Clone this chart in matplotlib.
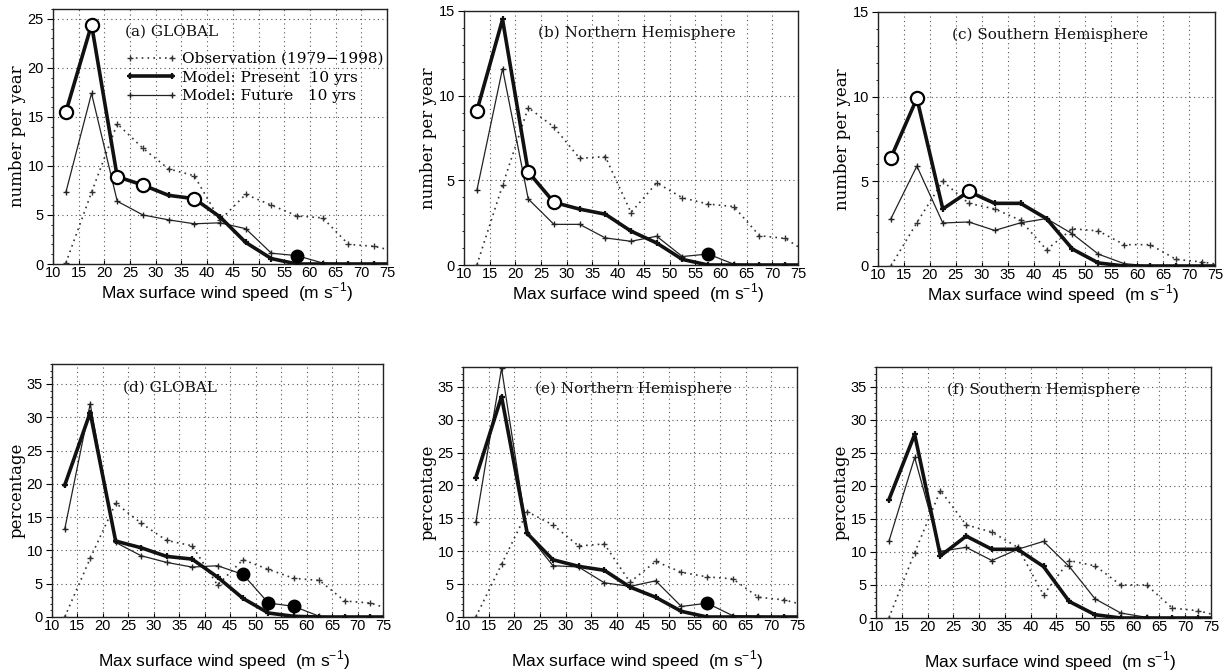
import matplotlib
matplotlib.use("Agg")
import matplotlib.pyplot as plt
from matplotlib.ticker import MultipleLocator
from matplotlib.lines import Line2D

# ---------------- data ----------------
wind = [12.5, 17.5, 22.5, 27.5, 32.5, 37.5, 42.5, 47.5, 52.5, 57.5, 62.5, 67.5, 72.5, 77.5]

# (a) GLOBAL, number per year
a_obs     = [0.1, 7.3, 14.3, 11.8, 9.7, 9.0, 4.45, 7.1, 6.0, 4.9, 4.7, 2.0, 1.8, 1.2]
a_present = [15.5, 24.4, 8.9, 8.05, 7.0, 6.66, 4.8, 2.2, 0.55, 0.0, 0.0, 0.0, 0.0, 0.0]
a_future  = [7.3, 17.4, 6.4, 5.0, 4.5, 4.1, 4.2, 3.6, 1.1, 0.85, 0.1, 0.0, 0.0, 0.0]
a_present_open = [12.5, 17.5, 22.5, 27.5, 37.5]
a_future_filled = [57.5]

# (b) Northern Hemisphere, number per year
b_obs     = [0.0, 4.7, 9.3, 8.15, 6.3, 6.4, 3.1, 4.85, 3.97, 3.6, 3.45, 1.73, 1.57, 0.6]
b_present = [9.1, 14.5, 5.5, 3.7, 3.3, 3.0, 2.0, 1.3, 0.33, 0.0, 0.0, 0.0, 0.0, 0.0]
b_future  = [4.4, 11.6, 3.9, 2.4, 2.4, 1.6, 1.4, 1.7, 0.5, 0.65, 0.05, 0.0, 0.0, 0.0]
b_present_open = [12.5, 22.5, 27.5]
b_future_filled = [57.5]

# (c) Southern Hemisphere, number per year
c_obs     = [0.0, 2.56, 5.0, 3.7, 3.37, 2.7, 0.96, 2.2, 2.07, 1.26, 1.26, 0.39, 0.24, 0.0]
c_present = [6.4, 9.9, 3.37, 4.4, 3.7, 3.7, 2.8, 1.0, 0.18, 0.0, 0.0, 0.0, 0.0, 0.0]
c_future  = [2.8, 5.9, 2.54, 2.6, 2.1, 2.55, 2.8, 1.9, 0.7, 0.14, 0.0, 0.0, 0.0, 0.0]
c_present_open = [12.5, 17.5, 27.5]
c_future_filled = []

# (d) GLOBAL, percentage
d_obs     = [0.0, 8.8, 17.1, 14.1, 11.5, 10.7, 4.8, 8.6, 7.15, 5.8, 5.5, 2.4, 2.1, 0.9]
d_present = [19.8, 30.7, 11.4, 10.4, 9.1, 8.7, 6.0, 2.8, 0.6, 0.1, 0.0, 0.0, 0.0, 0.0]
d_future  = [13.2, 32.0, 11.2, 9.2, 8.2, 7.5, 7.7, 6.4, 2.1, 1.6, 0.1, 0.0, 0.0, 0.0]
d_present_open = []
d_future_filled = [47.5, 52.5, 57.5]

# (e) Northern Hemisphere, percentage
e_obs     = [0.0, 8.0, 16.0, 14.0, 10.8, 11.1, 5.3, 8.45, 6.8, 6.1, 5.8, 3.0, 2.6, 1.6]
e_present = [21.2, 33.5, 12.7, 8.7, 7.7, 7.1, 4.55, 3.0, 0.86, 0.0, 0.0, 0.0, 0.0, 0.0]
e_future  = [14.4, 37.8, 12.7, 7.8, 7.6, 5.2, 4.65, 5.5, 1.6, 2.1, 0.2, 0.1, 0.0, 0.0]
e_present_open = []
e_future_filled = [57.5]

# (f) Southern Hemisphere, percentage
f_obs     = [0.0, 9.9, 19.3, 14.1, 13.0, 10.7, 3.5, 8.7, 7.9, 5.0, 5.0, 1.5, 1.1, 0.1]
f_present = [17.9, 27.8, 9.4, 12.4, 10.4, 10.4, 7.8, 2.5, 0.5, 0.0, 0.0, 0.0, 0.0, 0.0]
f_future  = [11.6, 24.3, 10.1, 10.7, 8.7, 10.4, 11.6, 7.8, 2.9, 0.75, 0.1, 0.0, 0.0, 0.0]
f_present_open = []
f_future_filled = []

titles = ["(a) GLOBAL", "(b) Northern Hemisphere", "(c) Southern Hemisphere",
          "(d) GLOBAL", "(e) Northern Hemisphere", "(f) Southern Hemisphere"]
ylabels = ["number per year"] * 3 + ["percentage"] * 3
ylims = [26, 15, 15, 38, 38, 38]
xticks = list(range(10, 80, 5))
legend_labels = ["Observation (1979\u22121998)", "Model: Present  10 yrs", "Model: Future   10 yrs"]

# ---------------- layout (pixel boxes: left, right, top, bottom) ----------------
W, H = 1226, 671
boxes = [(53, 387, 9, 264), (464, 798, 11, 265), (878, 1215, 12, 266),
         (52, 383, 364, 617), (463, 797, 367, 617), (876, 1211, 367, 618)]
title_pos = [(125, 32), (538, 33), (952, 35), (123, 388), (535, 389), (947, 390)]
xlabel_pad = [0.5, 0.5, 0.5, 11, 11, 11]

SERIF = ["DejaVu Serif"]
TICKF = ["Liberation Sans Narrow", "Liberation Sans"]
SANS = ["Liberation Sans"]

fig = plt.figure(figsize=(W / 100, H / 100), dpi=100)
fig.patch.set_facecolor("white")

panels = [
    (a_obs, a_present, a_future, a_present_open, a_future_filled),
    (b_obs, b_present, b_future, b_present_open, b_future_filled),
    (c_obs, c_present, c_future, c_present_open, c_future_filled),
    (d_obs, d_present, d_future, d_present_open, d_future_filled),
    (e_obs, e_present, e_future, e_present_open, e_future_filled),
    (f_obs, f_present, f_future, f_present_open, f_future_filled),
]

for i, (obs, pres, fut, popen, ffill) in enumerate(panels):
    l, r, t, b = boxes[i]
    ax = fig.add_axes([l / W, 1 - b / H, (r - l) / W, (b - t) / H])
    ax.set_xlim(10, 75)
    ax.set_ylim(0, ylims[i])
    ax.set_xticks(xticks)
    ax.yaxis.set_major_locator(MultipleLocator(5))
    ax.yaxis.set_minor_locator(MultipleLocator(1))
    ax.grid(True, which="major", linestyle=(0, (1, 3)), color="#555555", linewidth=0.8)
    for s in ax.spines.values():
        s.set_linewidth(1.0)
        s.set_color("#222222")
    ax.tick_params(axis="x", which="major", direction="in", length=3, width=0.8,
                   labelsize=10.5, pad=1.5)
    ax.tick_params(axis="y", which="major", direction="out", length=4, width=0.8,
                   labelsize=10.5, pad=2.5)
    ax.tick_params(axis="y", which="minor", direction="out", length=1.5, width=0.6)
    for lab in ax.get_xticklabels() + ax.get_yticklabels():
        lab.set_family(TICKF)

    ax.plot(wind, obs, color="#333333", linestyle=(0, (1, 2.5)), linewidth=1.2,
            marker="+", markersize=4.5, markeredgewidth=1.0, zorder=3)
    ax.plot(wind, fut, color="#222222", linestyle="-", linewidth=0.9,
            marker="+", markersize=4.5, markeredgewidth=1.0, zorder=4)
    ax.plot(wind, pres, color="#111111", linestyle="-", linewidth=2.6,
            marker="+", markersize=5, markeredgewidth=1.6, zorder=5)

    po_y = [pres[wind.index(x)] for x in popen]
    ax.plot(popen, po_y, linestyle="none", marker="o", markersize=9.5,
            markerfacecolor="white", markeredgecolor="black", markeredgewidth=1.6, zorder=6)
    ff_y = [fut[wind.index(x)] for x in ffill]
    ax.plot(ffill, ff_y, linestyle="none", marker="o", markersize=9,
            markerfacecolor="black", markeredgecolor="black", zorder=6, clip_on=False)

    ax.set_xlabel("Max surface wind speed  (m s$^{\\mathregular{-1}}$)", family=SANS,
                  fontsize=12.5, labelpad=xlabel_pad[i])
    ax.xaxis.label.set_x(0.52)
    ax.set_ylabel(ylabels[i], family=SERIF, fontsize=12, labelpad=1)

    tx, ty = title_pos[i]
    fig.text(tx / W, 1 - ty / H, titles[i], family=SERIF, fontsize=11, va="center", ha="left",
             color="#111111")

    if i == 0:
        handles = [
            Line2D([], [], color="#333333", linestyle=(0, (1, 2.5)), linewidth=1.2,
                   marker="+", markersize=4.5, markeredgewidth=1.0),
            Line2D([], [], color="#111111", linestyle="-", linewidth=2.6,
                   marker="+", markersize=5, markeredgewidth=1.6),
            Line2D([], [], color="#222222", linestyle="-", linewidth=0.9,
                   marker="+", markersize=4.5, markeredgewidth=1.0),
        ]
        leg = ax.legend(handles, legend_labels, loc="upper left",
                        bbox_to_anchor=((125 - l) / (r - l), (b - 52) / (b - t)),
                        frameon=False, prop={"family": SERIF, "size": 11},
                        handlelength=3.4, handletextpad=0.3, labelspacing=0.3,
                        borderaxespad=0, borderpad=0, numpoints=2)

fig.savefig("out.png", dpi=100, facecolor="white")
